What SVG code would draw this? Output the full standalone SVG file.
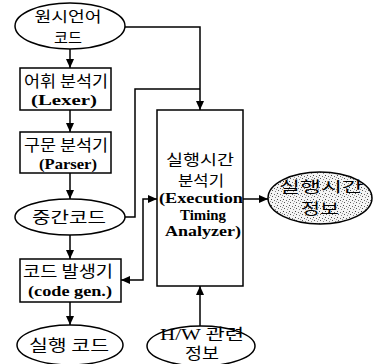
<svg xmlns="http://www.w3.org/2000/svg" width="373" height="364" viewBox="0 0 373 364">
<style>
.shape{fill:#fff;stroke:#000;stroke-width:1.5}
.con{fill:none;stroke:#000;stroke-width:1.5}
.ko{font-family:"Noto Sans CJK KR","Noto Sans",sans-serif;font-size:16px;fill:#000}
.ko2{font-family:"Noto Sans CJK KR","Noto Sans",sans-serif;font-size:14.5px;fill:#000}
.en{font-family:"Liberation Serif","Times New Roman",serif;font-size:15px;font-weight:bold;fill:#000}
</style>
<defs>
<marker id="arr" viewBox="0 0 9 8" refX="9" refY="4" markerWidth="9" markerHeight="8" markerUnits="userSpaceOnUse" orient="auto-start-reverse">
<path d="M0,0 L9,4 L0,8 z" fill="#000"/>
</marker>
<pattern id="stip" width="6" height="6" patternUnits="userSpaceOnUse">
<rect width="6" height="6" fill="#f4f4f4"/>
<rect x="1" y="1" width="1" height="1" fill="#444"/>
<rect x="4" y="2" width="1" height="1" fill="#666"/>
<rect x="2" y="4" width="1" height="1" fill="#555"/>
<rect x="5" y="5" width="1" height="1" fill="#888"/>
<rect x="0" y="3" width="1" height="1" fill="#999"/>
</pattern>
</defs>

<g id="connectors">
<line class="con" x1="70" y1="49" x2="70" y2="68" marker-end="url(#arr)"/>
<line class="con" x1="70" y1="110" x2="70" y2="132" marker-end="url(#arr)"/>
<line class="con" x1="70" y1="173" x2="70" y2="199" marker-end="url(#arr)"/>
<line class="con" x1="70" y1="235" x2="70" y2="259" marker-end="url(#arr)"/>
<line class="con" x1="70" y1="302" x2="70" y2="325" marker-end="url(#arr)"/>
<polyline class="con" points="125,27 200,27 200,110" marker-end="url(#arr)"/>
<polyline class="con" points="125,217 135,217 135,89 200,89"/>
<polyline class="con" points="121,280 143,280 143,199 157,199" marker-start="url(#arr)" marker-end="url(#arr)"/>
<line class="con" x1="243" y1="199" x2="268" y2="199" marker-end="url(#arr)"/>
<line class="con" x1="200" y1="326" x2="200" y2="286" marker-end="url(#arr)"/>
</g>

<g id="source">
<ellipse class="shape" cx="70" cy="26" rx="55" ry="23"/>
<text class="ko2" x="68" y="22" text-anchor="middle" textLength="67" lengthAdjust="spacingAndGlyphs">원시언어</text>
<text class="ko2" x="68" y="43" text-anchor="middle" textLength="28" lengthAdjust="spacingAndGlyphs">코드</text>
</g>

<g id="lexer">
<rect class="shape" x="20" y="68" width="91" height="42"/>
<text class="ko" x="66" y="87" text-anchor="middle" textLength="84" lengthAdjust="spacingAndGlyphs">어휘 분석기</text>
<text class="en" x="64" y="105" text-anchor="middle" textLength="66" lengthAdjust="spacingAndGlyphs">(Lexer)</text>
</g>

<g id="parser">
<rect class="shape" x="20" y="132" width="91" height="41"/>
<text class="ko" x="66" y="151" text-anchor="middle" textLength="84" lengthAdjust="spacingAndGlyphs">구문 분석기</text>
<text class="en" x="68" y="169" text-anchor="middle" textLength="58" lengthAdjust="spacingAndGlyphs">(Parser)</text>
</g>

<g id="intermediate">
<ellipse class="shape" cx="70" cy="217" rx="55" ry="18"/>
<text class="ko" x="69" y="223" text-anchor="middle" textLength="74" lengthAdjust="spacingAndGlyphs">중간코드</text>
</g>

<g id="codegen">
<rect class="shape" x="20" y="259" width="101" height="43"/>
<text class="ko" x="68" y="277" text-anchor="middle" textLength="90" lengthAdjust="spacingAndGlyphs">코드 발생기</text>
<text class="en" x="70" y="296" text-anchor="middle" textLength="84" lengthAdjust="spacingAndGlyphs">(code gen.)</text>
</g>

<g id="exec-code">
<ellipse class="shape" cx="70" cy="345" rx="53" ry="20"/>
<text class="ko" x="69" y="351" text-anchor="middle" textLength="80" lengthAdjust="spacingAndGlyphs">실행 코드</text>
</g>

<g id="analyzer">
<rect class="shape" x="157" y="110" width="86" height="176"/>
<text class="ko2" x="200" y="165" text-anchor="middle" textLength="68" lengthAdjust="spacingAndGlyphs">실행시간</text>
<text class="ko2" x="201" y="186" text-anchor="middle" textLength="46" lengthAdjust="spacingAndGlyphs">분석기</text>
<text class="en" x="201" y="203" text-anchor="middle" textLength="84" lengthAdjust="spacingAndGlyphs">(Execution</text>
<text class="en" x="203" y="220" text-anchor="middle" textLength="46" lengthAdjust="spacingAndGlyphs">Timing</text>
<text class="en" x="203" y="236" text-anchor="middle" textLength="76" lengthAdjust="spacingAndGlyphs">Analyzer)</text>
</g>

<g id="timing-info">
<ellipse cx="320" cy="198" rx="52" ry="26" fill="url(#stip)" stroke="#000" stroke-width="1.5"/>
<text class="ko2" x="321" y="192" text-anchor="middle" textLength="84" lengthAdjust="spacingAndGlyphs">실행시간</text>
<text class="ko2" x="320" y="214" text-anchor="middle" textLength="38" lengthAdjust="spacingAndGlyphs">정보</text>
</g>

<g id="hw-info">
<ellipse class="shape" cx="201" cy="346" rx="54" ry="20"/>
<text x="202" y="340" text-anchor="middle" textLength="84" lengthAdjust="spacingAndGlyphs"><tspan class="en" style="font-weight:normal;font-size:16px">H/W</tspan><tspan class="ko"> 관련</tspan></text>
<text class="ko" x="202" y="359" text-anchor="middle" textLength="34" lengthAdjust="spacingAndGlyphs">정보</text>
</g>
</svg>
